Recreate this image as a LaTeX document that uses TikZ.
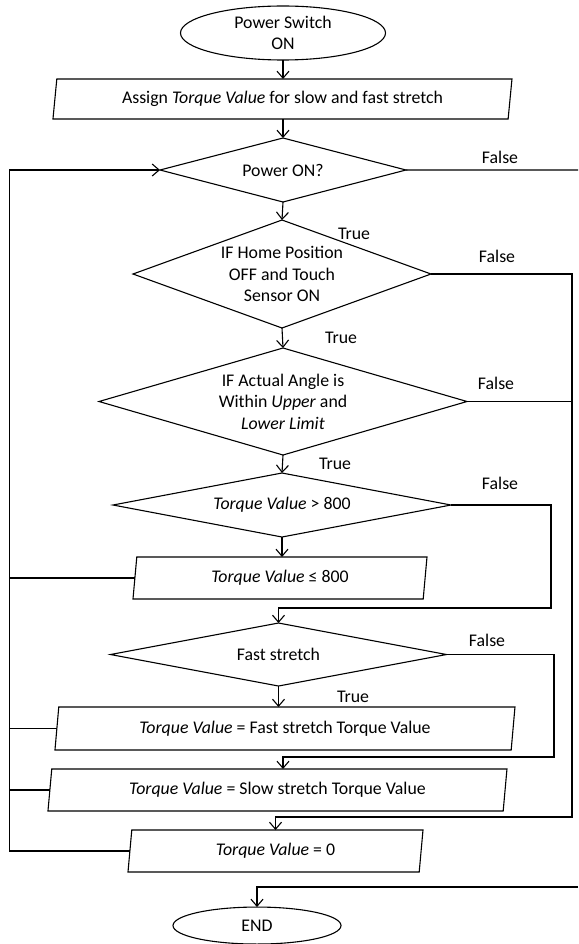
\documentclass[tikz,border=0pt]{standalone}
\usepackage{fontspec}
\setmainfont{Carlito}
\usetikzlibrary{positioning,shapes.geometric,arrows.meta}

\begin{document}
\begin{tikzpicture}[x=1pt,y=-1pt,line width=1.1pt,
    font=\fontsize{17.8}{21.5}\selectfont,
    term/.style={ellipse,draw,align=center,inner sep=0pt,outer sep=0pt},
    io/.style={trapezium,trapezium left angle=76,trapezium right angle=104,
      trapezium stretches body,draw,inner sep=0pt,outer sep=0pt,minimum height=42pt},
    decision/.style={diamond,draw,align=center,inner sep=0pt,outer sep=0pt},
    line/.style={draw,-{Straight Barb[length=7pt,width=12pt]}},
    tag/.style={inner sep=0pt}]
      \useasboundingbox (0,0) rectangle (578,944);
      % Start
      \node[term,minimum width=205pt,minimum height=54pt] (start) at (283,33) {Power Switch\\ON};
      % Assign
      \node[io,below=19pt of start,xshift=-0.5pt,minimum width=459pt,minimum height=40pt] (assign)
        {Assign \textit{Torque Value} for slow and fast stretch};
      % Power check
      \node[decision,below=19pt of assign,xshift=0.5pt,minimum width=246pt,minimum height=64pt,aspect=3.8] (pwron) {Power ON?};
      \node[decision,below=18pt of pwron,xshift=-1pt,minimum width=298pt,minimum height=108pt,aspect=2.76] (home)
        {IF Home Position\\OFF and Touch\\Sensor ON};
      \node[decision,below=20pt of home,xshift=1pt,minimum width=368pt,minimum height=107pt,aspect=3.44] (angle)
        {IF Actual Angle is\\Within \textit{Upper} and\\\textit{Lower Limit}};
      % Torque check
      \node[decision,below=18pt of angle,xshift=-1pt,minimum width=338pt,minimum height=64pt,aspect=5.3] (tqcheck)
        {\textit{Torque Value} > 800};
      \node[io,below=20pt of tqcheck,xshift=-2pt,minimum width=294pt] (tqlow) {\textit{Torque Value} ≤ 800};
      % Stretch mode
      \node[decision,below=24pt of tqlow,xshift=-1.5pt,minimum width=336pt,minimum height=63pt,aspect=5.3] (fast) {Fast stretch};
      \node[io,below=21pt of fast,xshift=6.5pt,minimum width=460pt,minimum height=43pt] (tqfast)
        {\textit{Torque Value} = Fast stretch Torque Value};
      \node[io,below=19pt of tqfast,xshift=-7.5pt,minimum width=459pt] (tqslow)
        {\textit{Torque Value} = Slow stretch Torque Value};
      \node[io,below=19pt of tqslow,xshift=-2pt,minimum width=295pt] (tqzero) {\textit{Torque Value} = 0};
      % End
      \node[term,below=35pt of tqzero,xshift=-18.5pt,minimum width=168pt,minimum height=37pt] (finish) {END};
      % branch labels
      \node[tag] (false1) at (500,157) {False};
      \node[tag] (false2) at (497,256) {False};
      \node[tag] (false3) at (496,383) {False};
      \node[tag] (false4) at (500,483) {False};
      \node[tag] (false5) at (487,640) {False};
      \node[tag] (true1) at (354,234) {True};
      \node[tag] (true2) at (341,338) {True};
      \node[tag] (true3) at (335,464) {True};
      \node[tag] (true4) at (353,697) {True};
      % helper points
      \coordinate (lbus) at (9.3,500);
      \coordinate (rbus) at (572,500);
      \coordinate (fjoin) at (551,608);
      \coordinate (sjoin) at (554,757);
      \coordinate (zjoin) at (572,817);
      \coordinate (offtop) at (578,170);
      \coordinate (offbot) at (578,887);
      % main flow
      \draw[line] (start.south) -- (start.south |- assign.north);
      \draw[line] (pwron.north |- assign.south) -- (pwron.north);
      \draw[line] (pwron.south) -- (home.north);
      \draw[line] (home.south) -- (angle.north);
      \draw[line] (angle.south) -- (tqcheck.north);
      \draw[line] (tqcheck.south) -- (tqcheck.south |- tqlow.north);
      \draw[line] (fast.south) -- (fast.south |- tqfast.north);
      % false branches
      \draw[line] (tqcheck.east) -| (fjoin) -- (fjoin -| fast.north) -- (fast.north);
      \draw[line] (fast.east) -| (sjoin) -- ([xshift=5.5pt]sjoin -| tqslow.north) -- ([xshift=5.5pt]tqslow.north);
      \draw (angle.east) -- (angle.east -| rbus);
      \draw[line] (home.east) -| (zjoin) -- (zjoin -| tqzero.north) -- (tqzero.north);
      \draw (pwron.east) -- (offtop);
      \draw[line] (offbot) -- (offbot -| finish.north) -- (finish.north);
      % loop back
      \draw[line] (tqzero.west) -| (lbus) |- (pwron.west);
      \draw (tqlow.west) -- (tqlow.west -| lbus);
      \draw (tqfast.west) -- (tqfast.west -| lbus);
      \draw (tqslow.west) -- (tqslow.west -| lbus);
\end{tikzpicture}
\end{document}
